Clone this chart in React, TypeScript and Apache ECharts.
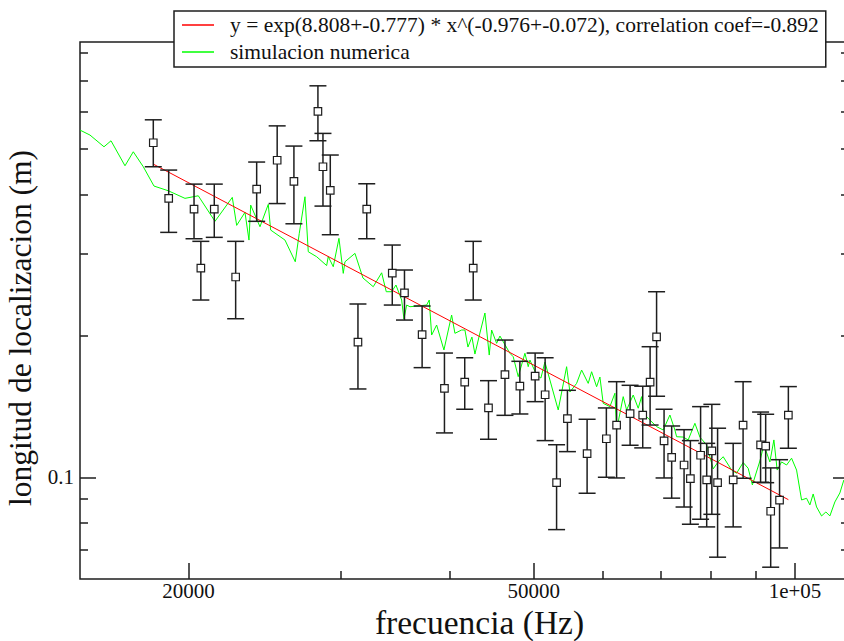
import React, { useEffect, useRef } from 'react';
import * as echarts from 'echarts';

const FONT = '"Liberation Serif", "Times New Roman", serif';

// axis ticks
const xMajorTicks = [20000, 50000, 100000];
const xTickLabels = ['20000', '50000', '1e+05'];
const xMinorTicks = [30000, 40000, 60000, 70000, 80000, 90000];
const yMajorTicks = [0.1];
const yTickLabels = ['0.1'];
const yMinorTicks = [0.07, 0.08, 0.09, 0.2, 0.3, 0.4, 0.5, 0.6, 0.7, 0.8];

const fitName = 'y = exp(8.808+-0.777) * x^(-0.976+-0.072), correlation coef=-0.892';
const simName = 'simulacion numerica';

// measured points with error bars
const freq = [18220, 18980, 20300, 20670, 21420, 22670, 23970, 25310, 26460, 28200, 28580, 29140,
  31360, 32100, 34350, 35480, 37180, 39450, 41630, 42580, 44340, 46320, 48190, 50180, 51530, 53120,
  54670, 57600, 60620, 62290, 64560, 66760, 68080, 69260, 70650, 72090, 74500, 75760, 77840, 79110,
  80200, 81430, 84870, 87130, 91270, 92510, 93750, 95980, 98250];
const locLength = [0.5157, 0.3926, 0.3727, 0.2791, 0.3727, 0.2671, 0.4110, 0.4733, 0.4268, 0.6013, 0.4585, 0.4084,
  0.1941, 0.3727, 0.2721, 0.2470, 0.2013, 0.1547, 0.1595, 0.2791, 0.1406, 0.1655, 0.1565, 0.1644, 0.1500, 0.09748,
  0.1334, 0.1124, 0.1209, 0.1293, 0.1367, 0.1358, 0.1595, 0.1991, 0.1196, 0.1103, 0.1063, 0.09941, 0.1115, 0.09878,
  0.1139, 0.09748, 0.09878, 0.1293, 0.1173, 0.1166, 0.08474, 0.08948, 0.1358];
const errLow = [0.4585, 0.3324, 0.3222, 0.2386, 0.3244, 0.2177, 0.3509, 0.3828, 0.3467, 0.5208, 0.3781, 0.3286,
  0.1543, 0.3222, 0.2328, 0.2163, 0.1713, 0.1244, 0.1397, 0.2386, 0.1206, 0.1356, 0.1365, 0.1450, 0.1198, 0.07745,
  0.1135, 0.09256, 0.1001, 0.09976, 0.1171, 0.1156, 0.1293, 0.1489, 0.09976, 0.09036, 0.08652, 0.07952, 0.08149, 0.07848,
  0.08348, 0.06766, 0.07848, 0.09961, 0.09768, 0.09748, 0.06442, 0.07079, 0.1154];
const errHigh = [0.5771, 0.4511, 0.4211, 0.3181, 0.4211, 0.3181, 0.4692, 0.5602, 0.5074, 0.6817, 0.5399, 0.4856,
  0.2340, 0.4218, 0.3124, 0.2764, 0.2317, 0.1840, 0.1798, 0.3181, 0.1607, 0.1961, 0.1767, 0.1840, 0.1798, 0.1174,
  0.1533, 0.1330, 0.1406, 0.1599, 0.1571, 0.1564, 0.1898, 0.2485, 0.1397, 0.1287, 0.1264, 0.1198, 0.1415, 0.1182,
  0.1431, 0.1273, 0.1182, 0.1599, 0.1378, 0.1363, 0.1048, 0.1091, 0.1561];

// fitted power law (end points)
const fitFreq = [18220, 98250];
const fitLength = [0.4645, 0.0897];

// numerical simulation
const simFreq = [15000, 15403, 15986, 16286, 16902, 17278, 17743, 18254, 18959, 19818, 20530, 21460, 22468,
  22732, 23238, 23486, 23592, 24181, 24719, 24877, 25839, 26555, 26838, 27247, 27487, 28106, 28862, 28984,
  29371, 29819, 30161, 30297, 31112, 31779, 32660, 33395, 33806, 34293, 34687, 35215, 35431, 35685, 35999,
  37629, 37889, 38131, 38640, 39396, 40209, 40562, 41290, 41653, 41986, 42434, 42773, 43344, 43923, 44426,
  44710, 45307, 45706, 46934, 47347, 47979, 48840, 49269, 49492, 50379, 50957, 51501, 52189, 53350, 54553,
  55032, 56019, 56767, 57770, 58293, 59072, 59591, 60115, 61193, 62010, 62290, 63391, 63965, 65095, 65964,
  66562, 66845, 68043, 69264, 70487, 71751, 72709, 73038, 74328, 75320, 76671, 77695, 79088, 80485, 81560,
  82649, 84511, 85640, 87152, 88316, 89305, 91100, 92071, 93549, 94547, 95378, 96498, 97787, 99092, 100415,
  101756, 103115, 104022, 104936, 105887, 107301, 108532, 109690, 111154, 112638, 113840];
const simLength = [0.5487, 0.5355, 0.5056, 0.5207, 0.4607, 0.4934, 0.4585, 0.4171, 0.4076, 0.3927, 0.3977, 0.3509, 0.3946,
  0.3440, 0.3667, 0.3201, 0.3800, 0.3417, 0.3813, 0.3362, 0.3201, 0.2878, 0.3308, 0.3958, 0.3023, 0.2950, 0.2825, 0.2953,
  0.2809, 0.3228, 0.2719, 0.2878, 0.2999, 0.2658, 0.2547, 0.2727, 0.2485, 0.2485, 0.2568, 0.2386, 0.2174, 0.2328, 0.2309,
  0.2328, 0.2386, 0.2010, 0.2111, 0.1868, 0.2217, 0.2027, 0.2060, 0.2060, 0.1895, 0.1990, 0.1831, 0.2030, 0.2239, 0.1822,
  0.2060, 0.1930, 0.2000, 0.1838, 0.1807, 0.1639, 0.1838, 0.1721, 0.1778, 0.1652, 0.1628, 0.1761, 0.1612, 0.1392, 0.1721,
  0.1520, 0.1586, 0.1693, 0.1586, 0.1679, 0.1560, 0.1636, 0.1438, 0.1415, 0.1511, 0.1262, 0.1486, 0.1392, 0.1498, 0.1404,
  0.1486, 0.1370, 0.1325, 0.1283, 0.1262, 0.1358, 0.1262, 0.1221, 0.1219, 0.1202, 0.1304, 0.1219, 0.1173, 0.1043, 0.1080,
  0.1107, 0.1037, 0.1021, 0.1076, 0.1046, 0.09639, 0.1084, 0.1173, 0.1079, 0.1202, 0.1037, 0.1079, 0.1063, 0.1099, 0.1037,
  0.08956, 0.09031, 0.08740, 0.09223, 0.08654, 0.08281, 0.08445, 0.08281, 0.08869, 0.09269, 0.09878];

const X_MIN = 15000;
const X_MAX = 115400;
const Y_MIN = 0.0608;
const Y_MAX = 0.845;
const INK = '#1e1e1e';

function nearestLabel(v: number, ticks: number[], labels: string[]) {
  let best = 0;
  for (let i = 1; i < ticks.length; i++) {
    if (Math.abs(Math.log(ticks[i] / v)) < Math.abs(Math.log(ticks[best] / v))) best = i;
  }
  return labels[best];
}

function buildOption(): any {
  const axisBase = {
    splitLine: { show: false },
    minorTick: { show: false },
    minorSplitLine: { show: false },
    axisLine: { show: false },
  };
  const tickLine = { color: INK, width: 1.5 };
  const labelStyle = { fontFamily: FONT, fontSize: 21, color: '#111' };

  const xBase = { ...axisBase, type: 'log', min: X_MIN, max: X_MAX, position: 'bottom' };
  const yBase = { ...axisBase, type: 'log', min: Y_MIN, max: Y_MAX };

  return {
    animation: false,
    backgroundColor: '#fff',
    grid: {
      left: 80, top: 42, width: 769, height: 537,
      containLabel: false, outerBoundsMode: 'none',
      show: true, borderColor: INK, borderWidth: 1.5, backgroundColor: 'transparent',
    },
    legend: {
      orient: 'vertical', left: 174, top: 11,
      data: [fitName, simName],
      icon: 'rect', itemWidth: 32, itemHeight: 1.5, itemGap: 5,
      padding: [3, 7, 4, 8],
      backgroundColor: '#fff', borderColor: INK, borderWidth: 1.5,
      selectedMode: false,
      textStyle: { fontFamily: FONT, fontSize: 21.5, color: '#111', lineHeight: 21, padding: [0, 0, 0, 11] },
    },
    xAxis: [
      {
        ...xBase,
        axisTick: { show: true, inside: true, length: 16, customValues: xMajorTicks, lineStyle: tickLine },
        axisLabel: {
          ...labelStyle, lineHeight: 16, margin: 4, customValues: xMajorTicks,
          formatter: (v: number) => nearestLabel(v, xMajorTicks, xTickLabels),
        },
        name: 'frecuencia (Hz)', nameLocation: 'middle', nameGap: 28, nameMoveOverlap: false,
        nameTextStyle: { fontFamily: FONT, fontSize: 33.5, lineHeight: 30, color: '#111', padding: [0, 0, 0, 30] },
      },
      {
        ...xBase,
        axisTick: { show: true, inside: true, length: 8, customValues: xMinorTicks, lineStyle: tickLine },
        axisLabel: { show: false },
      },
    ],
    yAxis: [
      {
        ...yBase, position: 'left',
        axisTick: { show: true, inside: true, length: 16, customValues: yMajorTicks, lineStyle: tickLine },
        axisLabel: {
          ...labelStyle, margin: 6, customValues: yMajorTicks,
          formatter: (v: number) => nearestLabel(v, yMajorTicks, yTickLabels),
        },
        name: 'longitud de localizacion (m)', nameLocation: 'middle', nameGap: 34,
        nameTextStyle: { fontFamily: FONT, fontSize: 31.5, color: '#111', padding: [0, 35, 0, 0] },
      },
      {
        ...yBase, position: 'left',
        axisTick: { show: true, inside: true, length: 8, customValues: yMinorTicks, lineStyle: tickLine },
        axisLabel: { show: false },
      },
      {
        ...yBase, position: 'right',
        axisTick: { show: true, inside: true, length: 16, customValues: yMajorTicks, lineStyle: tickLine },
        axisLabel: { show: false },
      },
      {
        ...yBase, position: 'right',
        axisTick: { show: true, inside: true, length: 8, customValues: yMinorTicks, lineStyle: tickLine },
        axisLabel: { show: false },
      },
    ],
    series: [
      {
        name: simName, type: 'line', xAxisIndex: 0, yAxisIndex: 0,
        data: simFreq.map((f, i) => [f, simLength[i]]),
        symbol: 'none', color: '#00ff00',
        lineStyle: { color: '#00ff00', width: 1 },
        z: 2,
      },
      {
        name: fitName, type: 'line', xAxisIndex: 0, yAxisIndex: 0,
        data: fitFreq.map((f, i) => [f, fitLength[i]]),
        symbol: 'none', color: '#ff0000',
        lineStyle: { color: '#ff0000', width: 1 },
        z: 3,
      },
      {
        name: 'error', type: 'custom', xAxisIndex: 0, yAxisIndex: 0,
        data: freq.map((f, i) => [f, errLow[i], errHigh[i]]),
        encode: { x: 0, y: [1, 2] },
        z: 4,
        renderItem: (params: any, api: any) => {
          const x = api.value(0);
          const lo = api.coord([x, api.value(1)]);
          const hi = api.coord([x, api.value(2)]);
          const w = 8.5;
          const style = { stroke: INK, lineWidth: 1.5 };
          return {
            type: 'group',
            children: [
              { type: 'line', shape: { x1: lo[0], y1: lo[1], x2: hi[0], y2: hi[1] }, style },
              { type: 'line', shape: { x1: lo[0] - w, y1: lo[1], x2: lo[0] + w, y2: lo[1] }, style },
              { type: 'line', shape: { x1: hi[0] - w, y1: hi[1], x2: hi[0] + w, y2: hi[1] }, style },
            ],
          };
        },
      },
      {
        name: 'datos', type: 'scatter', xAxisIndex: 0, yAxisIndex: 0,
        data: freq.map((f, i) => [f, locLength[i]]),
        symbol: 'rect', symbolSize: 7.5,
        itemStyle: { color: '#fff', borderColor: INK, borderWidth: 1.2, opacity: 1 },
        z: 5,
      },
    ],
  };
}

export default function App() {
  const ref = useRef<HTMLDivElement>(null);
  useEffect(() => {
    if (!ref.current) return;
    const chart = echarts.init(ref.current, null, { renderer: 'svg' });
    chart.setOption(buildOption());
    return () => chart.dispose();
  }, []);
  return (
    <div style={{ position: 'fixed', left: 0, top: 0, width: 844, height: 641, overflow: 'hidden', background: '#fff' }}>
      <div ref={ref} style={{ width: 870, height: 641 }} />
    </div>
  );
}
